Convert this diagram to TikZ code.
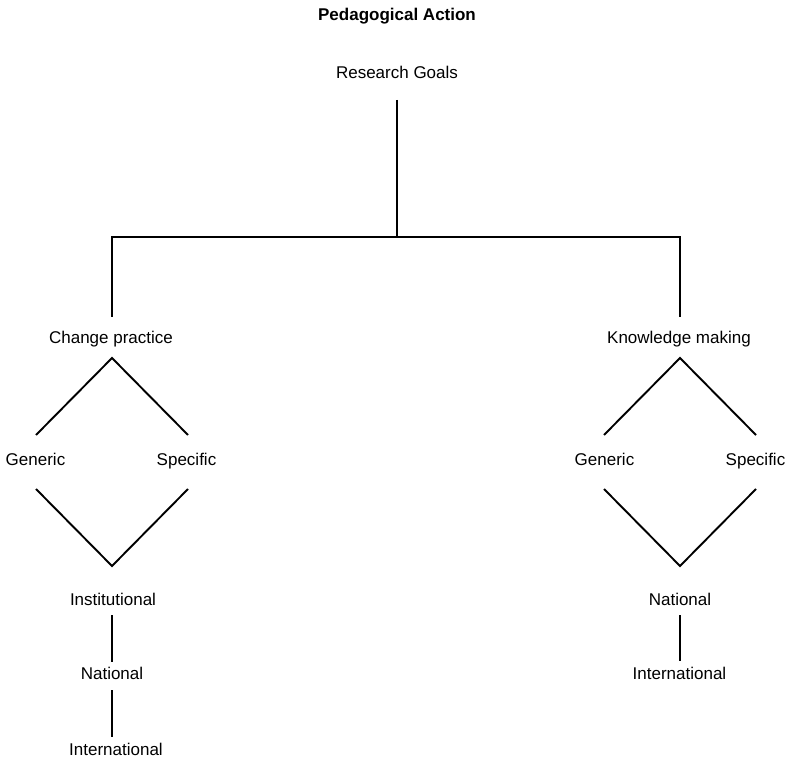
\documentclass[tikz,border=0pt]{standalone}
\usepackage{fontspec}
\setmainfont{Liberation Sans}
\begin{document}
\begin{tikzpicture}[x=1pt,y=-1pt,
  lbl/.style={inner sep=0pt,anchor=base,font=\fontsize{17}{20}\selectfont},
  ttl/.style={lbl,font=\fontsize{17}{20}\selectfont\bfseries},
  link/.style={line width=1.9pt,line cap=butt,line join=miter}]
\useasboundingbox (0,0) rectangle (793,759);
% texts
\node[ttl] (title) at (397,21) {Pedagogical Action};
\node[lbl] (rg) at (397,79) {Research Goals};
\node[lbl] (cp) at (111,344) {Change practice};
\node[lbl] (km) at (679,344) {Knowledge making};
\node[lbl] (g1) at (35.5,465) {Generic};
\node[lbl] (s1) at (186.5,465) {Specific};
\node[lbl] (g2) at (604.5,465) {Generic};
\node[lbl] (s2) at (755.5,465) {Specific};
\node[lbl] (in1) at (113,605) {Institutional};
\node[lbl] (na1) at (112,679) {National};
\node[lbl] (it1) at (116,755) {International};
\node[lbl] (na2) at (680,605) {National};
\node[lbl] (it2) at (679.5,679) {International};
% connector points
\coordinate (rgb) at (397,100);
\coordinate (j) at (397,237);
\coordinate (jl) at (112,237);
\coordinate (jr) at (680,237);
\coordinate (cpt) at (112,317);
\coordinate (kmt) at (680,317);
\coordinate (cpb) at (112,358);
\coordinate (kmb) at (680,358);
\coordinate (g1t) at (36,435);
\coordinate (s1t) at (188,435);
\coordinate (g1b) at (36,489);
\coordinate (s1b) at (188,489);
\coordinate (v1) at (112,566);
\coordinate (g2t) at (604,435);
\coordinate (s2t) at (756,435);
\coordinate (g2b) at (604,489);
\coordinate (s2b) at (756,489);
\coordinate (v2) at (680,566);
\coordinate (in1b) at (112,615);
\coordinate (na1t) at (112,662);
\coordinate (na1b) at (112,690);
\coordinate (it1t) at (112,737);
\coordinate (na2b) at (680,615);
\coordinate (it2t) at (680,661);
% connectors
\draw[link] (rgb) -- (j);
\draw[link] (cpt) -- (jl) -- (jr) -- (kmt);
\draw[link] (g1t) -- (cpb) -- (s1t);
\draw[link] (g1b) -- (v1) -- (s1b);
\draw[link] (g2t) -- (kmb) -- (s2t);
\draw[link] (g2b) -- (v2) -- (s2b);
\draw[link] (in1b) -- (na1t);
\draw[link] (na1b) -- (it1t);
\draw[link] (na2b) -- (it2t);
\end{tikzpicture}
\end{document}
